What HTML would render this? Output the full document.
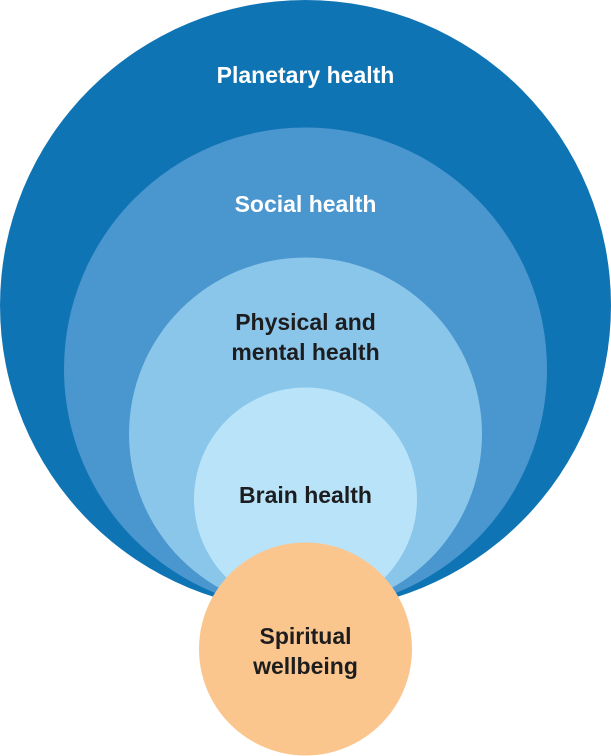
<!DOCTYPE html>
<html><head><style>body{margin:0;background:#fff}</style></head><body>
<svg width="611" height="756" viewBox="0 0 611 756" xmlns="http://www.w3.org/2000/svg" style="display:block">
<circle cx="305.5" cy="305.5" r="305.5" fill="#0f74b4"/>
<circle cx="305.5" cy="369" r="241.5" fill="#4a96cf"/>
<circle cx="305.5" cy="434" r="176.5" fill="#8ac6ea"/>
<circle cx="305.5" cy="499" r="111.5" fill="#b9e3f8"/>
<circle cx="305.5" cy="649" r="106.5" fill="#fbc68e"/>
<g font-family="Liberation Sans, sans-serif" font-weight="bold" font-size="23" text-anchor="middle">
<text x="305.5" y="83" fill="#fff">Planetary health</text>
<text x="305.5" y="212" fill="#fff">Social health</text>
<text x="305.5" y="330" fill="#1d1d1f">Physical and</text>
<text x="305.5" y="360" fill="#1d1d1f">mental health</text>
<text x="305.5" y="503" fill="#1d1d1f">Brain health</text>
<text x="305.5" y="644" fill="#1d1d1f">Spiritual</text>
<text x="305.5" y="674" fill="#1d1d1f">wellbeing</text>
</g>
</svg>
</body></html>
